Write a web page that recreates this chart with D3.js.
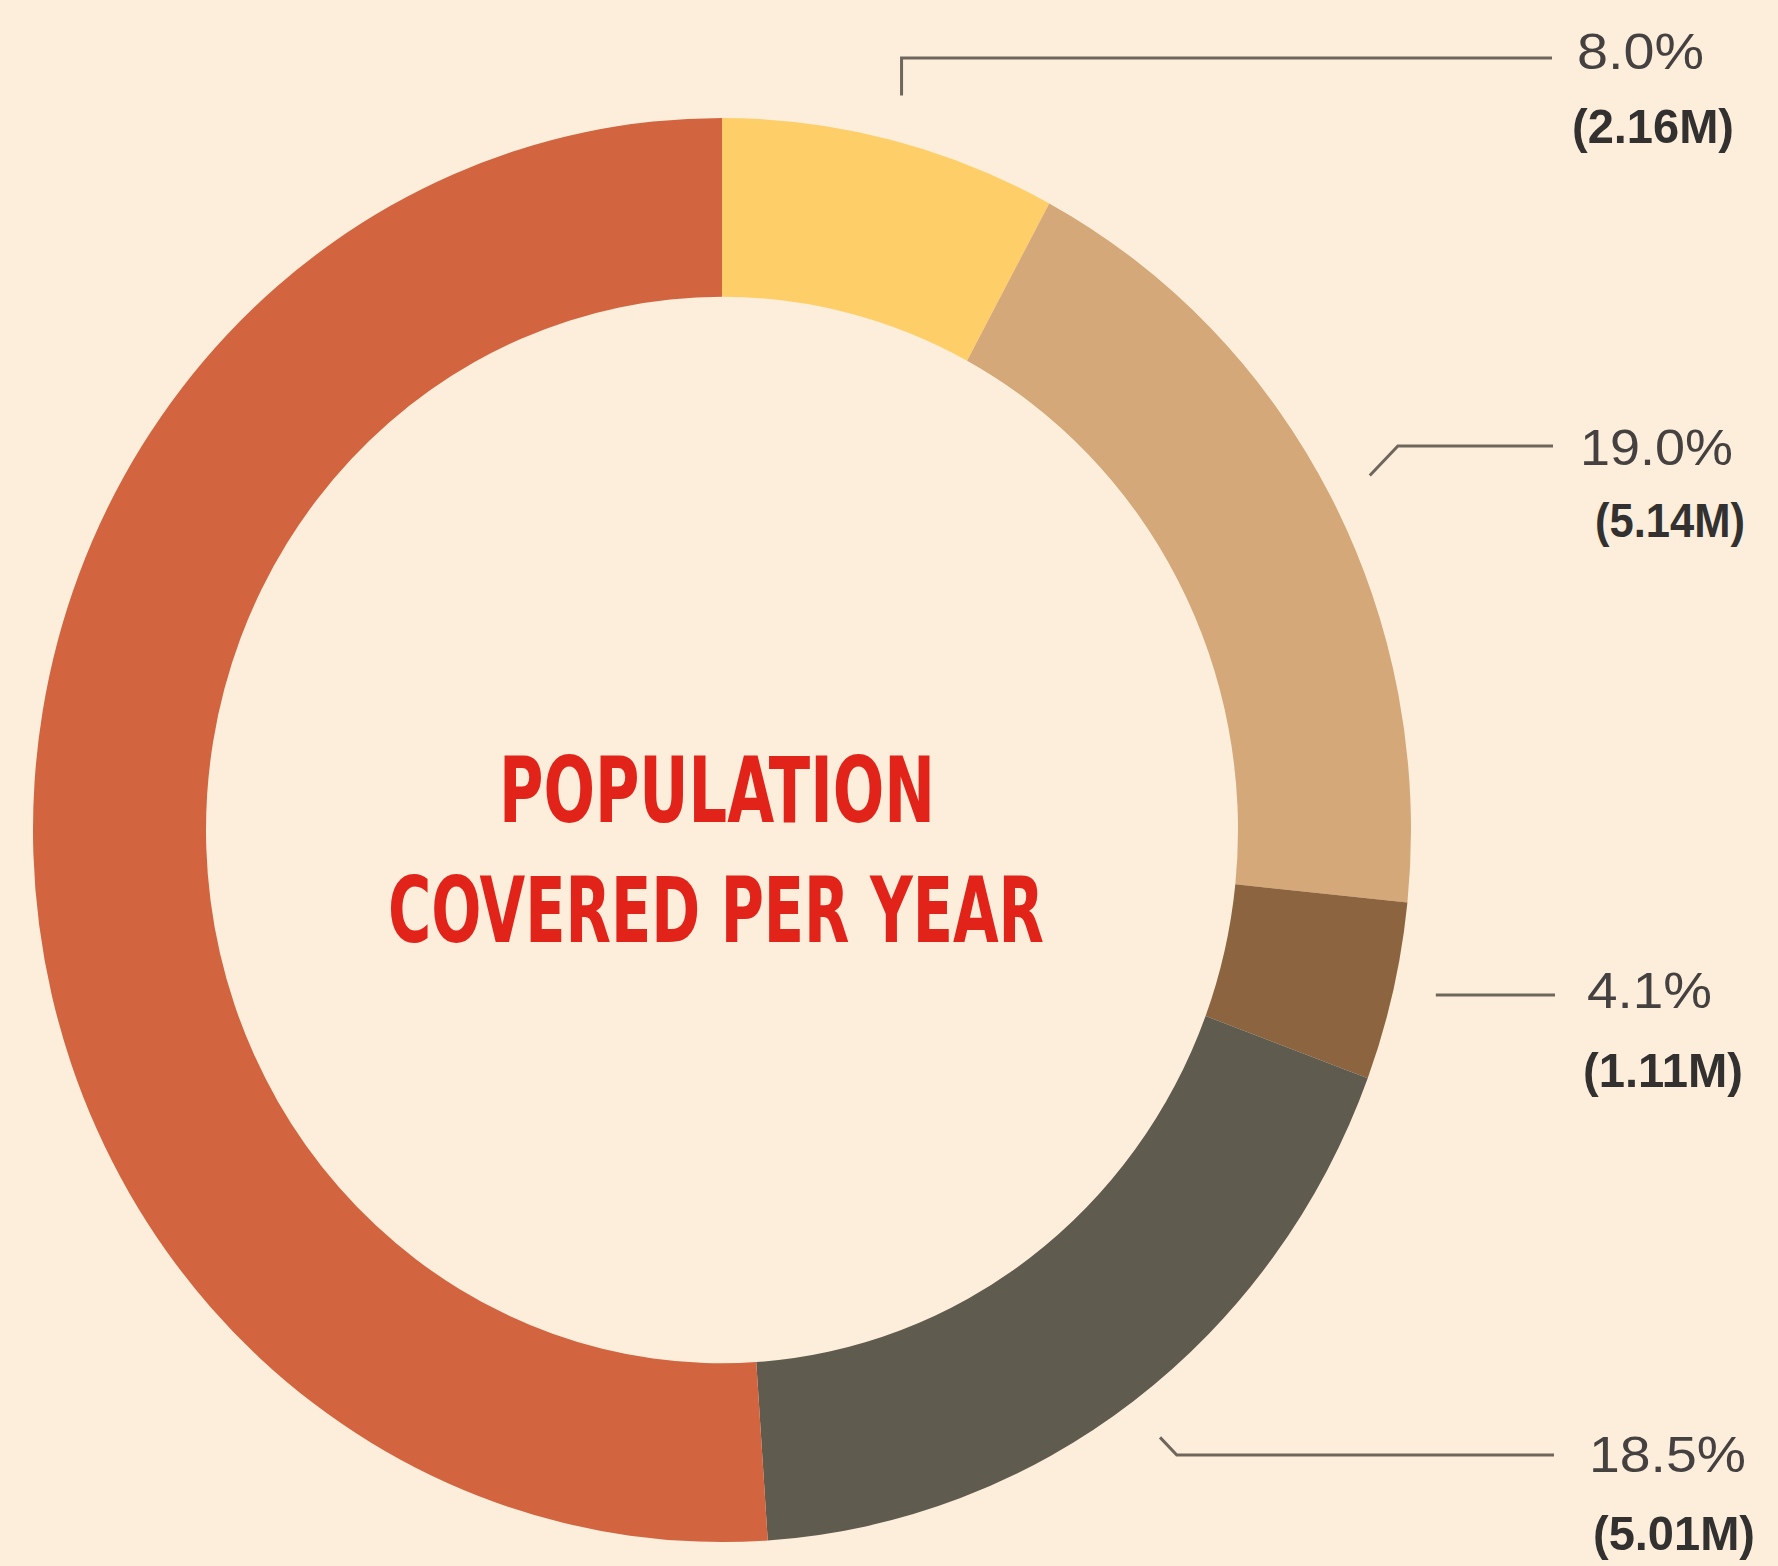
<!DOCTYPE html>
<html>
<head>
<meta charset="utf-8">
<script src="https://cdn.jsdelivr.net/npm/d3@7"></script>
<style>
  body { margin: 0; background: #fdeedc; }
  svg { display: block; }
</style>
</head>
<body>
<svg></svg>
<script>
// slices clockwise from 12 o'clock, in millions of people
var segments = ['a', 'b', 'c', 'd', 'rest'];
var millions = [2.16, 5.14, 1.11, 5.01, 14.0];   // last one unlabeled
var percentLabels = ['8.0%', '19.0%', '4.1%', '18.5%'];
var millionLabels = ['(2.16M)', '(5.14M)', '(1.11M)', '(5.01M)'];
var colors = ['#fecf68', '#d4a878', '#8d6440', '#5f5b4e', '#d2643f'];
var titleLines = ['POPULATION', 'COVERED PER YEAR'];

var width = 1778
var height = 1566
var cx = 722, cy = 830
var outerR = 689, innerR = 516
var squash = 1.0334   // the ring in the picture is a bit taller than wide

var svg = d3.select('svg').attr('width', width).attr('height', height)
svg.append('rect').attr('width', width).attr('height', height).attr('fill', '#fdeedc')

var pie = d3.pie().sort(null).value(function (d) { return d })
var arcs = pie(millions)
var arc = d3.arc().innerRadius(innerR).outerRadius(outerR)

svg.append('g')
    .attr('transform', 'translate(' + cx + ',' + cy + ') scale(1,' + squash + ')')
    .selectAll('path')
    .data(arcs)
    .enter().append('path')
    .attr('d', arc)
    .attr('fill', function (d, i) { return colors[i] })

// title in the hole
var title = svg.append('g').attr('font-family', "'Liberation Sans Narrow', 'DejaVu Sans Condensed', sans-serif")
    .attr('font-weight', 'bold').attr('font-stretch', 'condensed')
    .attr('fill', '#e2231a').attr('font-size', 90).attr('text-anchor', 'middle')
var titleLayout = [{ x: 717, y: 822, w: 436 }, { x: 716, y: 942, w: 656 }]
titleLines.forEach(function (t, i) {
    title.append('text').text(t)
        .attr('x', titleLayout[i].x).attr('y', titleLayout[i].y)
        .attr('textLength', titleLayout[i].w).attr('lengthAdjust', 'spacingAndGlyphs')
})

// label layout: line height, text positions, leader shape
var labelLayout = [
    { lineY: 58, endX: 1552, kind: 'vertical', px: 1577, py: 69, pw: 127, mx: 1572, my: 143, mw: 162 },
    { lineY: 446, endX: 1553, kind: 'diagonal', px: 1580, py: 465, pw: 153, mx: 1595, my: 537, mw: 150 },
    { lineY: 995, endX: 1555, kind: 'flat', px: 1587, py: 1008, pw: 125, mx: 1583, my: 1087, mw: 160 },
    { lineY: 1455, endX: 1554, kind: 'diagonal', px: 1589, py: 1472, pw: 157, mx: 1593, my: 1550, mw: 162 }
]
var leaderR = outerR + 44

function leaderPoints(d, lay) {
    var a = (d.startAngle + d.endAngle) / 2
    var sx = cx + Math.sin(a) * leaderR
    var sy = cy - Math.cos(a) * leaderR * squash
    if (lay.kind === 'vertical') return [[sx, sy], [sx, lay.lineY], [lay.endX, lay.lineY]]
    if (lay.kind === 'flat') return [[sx, lay.lineY], [lay.endX, lay.lineY]]
    var dy = Math.abs(lay.lineY - sy)
    return [[sx, sy], [sx + dy * 0.95, lay.lineY], [lay.endX, lay.lineY]]
}

var line = d3.line()
var labels = svg.append('g').attr('font-family', "'Liberation Sans', Arial, sans-serif")

labelLayout.forEach(function (lay, i) {
    labels.append('path')
        .attr('d', line(leaderPoints(arcs[i], lay)))
        .attr('fill', 'none').attr('stroke', '#6e665b').attr('stroke-width', 3)
    labels.append('text').text(percentLabels[i])
        .attr('x', lay.px).attr('y', lay.py)
        .attr('font-size', 50).attr('fill', '#444140')
        .attr('textLength', lay.pw).attr('lengthAdjust', 'spacingAndGlyphs')
    labels.append('text').text(millionLabels[i])
        .attr('x', lay.mx).attr('y', lay.my)
        .attr('font-size', 49).attr('font-weight', 'bold').attr('fill', '#333130')
        .attr('textLength', lay.mw).attr('lengthAdjust', 'spacingAndGlyphs')
})
</script>
</body>
</html>
